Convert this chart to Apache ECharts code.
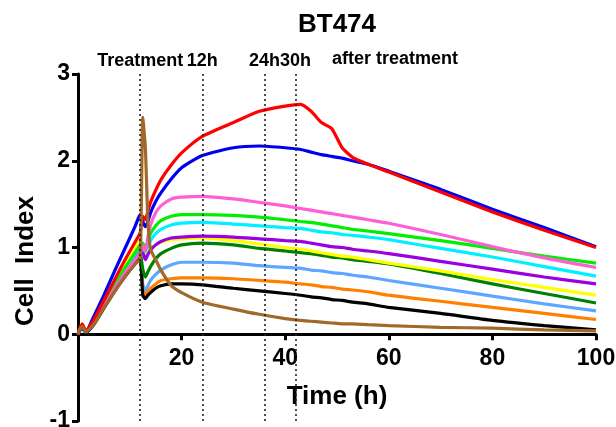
<!DOCTYPE html>
<html><head><meta charset="utf-8">
<script src="https://cdn.jsdelivr.net/npm/echarts@6/dist/echarts.min.js"></script>
<style>html,body{margin:0;padding:0;background:#fff}#c{width:616px;height:427px}</style>
</head><body><div id="c"></div>
<script>
const chartTitle = 'BT474';
const xName = 'Time (h)';
const yName = 'Cell  Index';
const hours = [0,0.8,1.5,3,5,7,9,11,12,12.5,13,13.5,14,15,16,18,20,24,30,35,40,43,45,47,49,51,53,56,60,70,80,90,100];
const markTimes = [12,24,36,42];
const markLabels = ['Treatment','12h','24h','30h'];
const annotation = 'after treatment';

const blue      = [0,0.08,0.03,0.20,0.45,0.72,0.98,1.24,1.38,1.30,1.24,1.30,1.40,1.53,1.63,1.79,1.92,2.06,2.15,2.17,2.15,2.13,2.10,2.07,2.05,2.03,2.00,1.96,1.88,1.67,1.44,1.23,1.01];
const red       = [0,0.12,0.04,0.16,0.39,0.62,0.85,1.06,1.17,1.36,1.32,1.42,1.52,1.66,1.78,1.95,2.09,2.28,2.44,2.57,2.63,2.65,2.57,2.44,2.37,2.15,2.04,1.96,1.87,1.64,1.41,1.20,1.00];
const pink      = [0,0.10,0.03,0.12,0.32,0.52,0.70,0.86,0.94,1.02,0.96,1.12,1.26,1.40,1.48,1.56,1.58,1.59,1.56,1.52,1.48,1.45,1.43,1.41,1.39,1.37,1.35,1.32,1.28,1.15,1.01,0.88,0.77];
const green     = [0,0.10,0.03,0.13,0.34,0.56,0.76,0.94,1.03,1.05,0.98,1.08,1.16,1.25,1.31,1.36,1.38,1.38,1.37,1.35,1.32,1.30,1.29,1.27,1.25,1.23,1.21,1.19,1.16,1.08,0.99,0.90,0.82];
const cyan      = [0,0.10,0.03,0.13,0.34,0.55,0.74,0.92,1.00,1.02,0.95,1.02,1.08,1.16,1.21,1.26,1.28,1.29,1.27,1.25,1.23,1.22,1.20,1.18,1.17,1.15,1.14,1.12,1.09,0.99,0.89,0.78,0.67];
const purple    = [0,0.10,0.03,0.12,0.33,0.54,0.72,0.89,0.97,0.95,0.86,0.92,0.97,1.03,1.07,1.11,1.12,1.13,1.12,1.10,1.08,1.07,1.05,1.03,1.01,1.00,0.98,0.96,0.93,0.84,0.75,0.66,0.58];
const yellow    = [0,0.12,0.04,0.14,0.36,0.58,0.79,0.98,1.08,1.00,0.90,0.95,0.99,1.03,1.06,1.09,1.10,1.11,1.08,1.04,1.00,0.98,0.96,0.94,0.92,0.90,0.89,0.86,0.82,0.73,0.63,0.54,0.45];
const darkGreen = [0,0.09,0.03,0.12,0.32,0.52,0.70,0.86,0.92,0.75,0.66,0.72,0.78,0.87,0.93,0.99,1.03,1.05,1.03,0.99,0.96,0.94,0.93,0.91,0.89,0.88,0.86,0.84,0.81,0.70,0.58,0.47,0.36];
const lightBlue = [0,0.08,0.02,0.11,0.31,0.51,0.69,0.84,0.90,0.58,0.50,0.56,0.62,0.69,0.74,0.80,0.83,0.83,0.82,0.79,0.77,0.76,0.74,0.73,0.71,0.70,0.68,0.66,0.62,0.53,0.44,0.35,0.27];
const orange    = [0,0.09,0.03,0.11,0.31,0.51,0.69,0.83,0.88,0.52,0.45,0.49,0.53,0.58,0.62,0.64,0.65,0.65,0.64,0.62,0.60,0.58,0.57,0.55,0.54,0.52,0.51,0.49,0.45,0.38,0.31,0.24,0.17];
const black     = [0,0.08,0.02,0.11,0.30,0.49,0.66,0.81,0.87,0.45,0.41,0.45,0.48,0.53,0.56,0.58,0.58,0.57,0.53,0.50,0.47,0.45,0.43,0.42,0.40,0.39,0.37,0.35,0.31,0.24,0.16,0.10,0.05];
const brown     = [0,0.09,0.03,0.11,0.30,0.49,0.66,0.81,0.87,2.50,2.15,1.30,0.98,0.86,0.74,0.56,0.48,0.37,0.29,0.23,0.18,0.16,0.15,0.14,0.13,0.12,0.12,0.11,0.10,0.08,0.07,0.05,0.04];

const curves = [
  ['lightBlue', lightBlue, '#5ea6ff'],
  ['orange', orange, '#ff8000'],
  ['black', black, '#000000'],
  ['darkGreen', darkGreen, '#008000'],
  ['yellow', yellow, '#ffff00'],
  ['purple', purple, '#9b00e0'],
  ['cyan', cyan, '#00f0ff'],
  ['green', green, '#00ee00'],
  ['pink', pink, '#ff5fd6'],
  ['blue', blue, '#0000f0'],
  ['red', red, '#ff0000'],
  ['brown', brown, '#a0692a']
];

const FONT = '"Liberation Sans", Arial, sans-serif';
const chart = echarts.init(document.getElementById('c'), null, {renderer: 'canvas'});

const series = [{
  type: 'line', name: 'markers', data: [], silent: true,
  markLine: {
    symbol: ['none', 'none'], silent: true, animation: false,
    lineStyle: {color: '#222', type: [2, 3], width: 1.6},
    label: {show: true, position: 'end', distance: 4, formatter: p => p.name,
      fontFamily: FONT, fontWeight: 'bold', fontSize: 18, color: '#000'},
    emphasis: {disabled: true},
    data: markTimes.map((t, i) => ({xAxis: t, name: markLabels[i]}))
  }
}].concat(curves.map(c => ({
  type: 'line', name: c[0], data: hours.map((h, i) => [h, c[1][i]]),
  showSymbol: false, symbol: 'none', smooth: 0.2,
  lineStyle: {color: c[2], width: 3.2}, itemStyle: {color: c[2]},
  emphasis: {disabled: true}, silent: true
})));

chart.setOption({
  animation: false,
  backgroundColor: '#fff',
  grid: {left: 78, right: 20, top: 74, bottom: 6, containLabel: false, outerBoundsMode: 'none'},
  xAxis: {
    type: 'value', min: 0, max: 100, interval: 20,
    name: xName, nameLocation: 'middle', nameGap: -37,
    nameTextStyle: {fontFamily: FONT, fontWeight: 'bold', fontSize: 26, color: '#000'},
    axisLine: {onZero: true, lineStyle: {color: '#000', width: 3}},
    axisTick: {show: true, length: 6, lineStyle: {color: '#000', width: 3}},
    axisLabel: {margin: -74, fontFamily: FONT, fontWeight: 'bold', fontSize: 23, color: '#000',
      formatter: v => (v === 0 ? '' : String(v))},
    splitLine: {show: false}
  },
  yAxis: {
    type: 'value', min: -1, max: 3, interval: 1,
    axisLine: {show: true, onZero: false, lineStyle: {color: '#000', width: 3}},
    axisTick: {show: true, length: 6, lineStyle: {color: '#000', width: 3}},
    axisLabel: {margin: 8, fontFamily: FONT, fontWeight: 'bold', fontSize: 23, color: '#000'},
    splitLine: {show: false}
  },
  graphic: [
    {type: 'text', x: 337, y: 25, style: {text: chartTitle, font: 'bold 26px ' + FONT, fill: '#000', textAlign: 'center', textVerticalAlign: 'middle'}},
    {type: 'text', x: 332, y: 59, style: {text: annotation, font: 'bold 18px ' + FONT, fill: '#000', textAlign: 'left', textVerticalAlign: 'middle'}},
    {type: 'text', x: 26, y: 261, rotation: Math.PI / 2, style: {text: yName, font: 'bold 26px ' + FONT, fill: '#000', textAlign: 'center', textVerticalAlign: 'middle'}}
  ],
  series: series
});
</script>
</body></html>
